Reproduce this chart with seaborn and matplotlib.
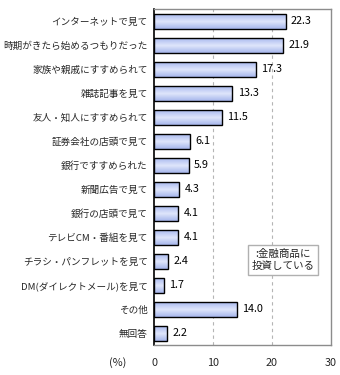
import numpy as np
import pandas as pd
import matplotlib
matplotlib.use("Agg")
import matplotlib.pyplot as plt
from matplotlib.colors import LinearSegmentedColormap
import seaborn as sns

# Reasons for starting to invest (%)
categories = [
    "インターネットで見て",
    "時期がきたら始めるつもりだった",
    "家族や親戚にすすめられて",
    "雑誌記事を見て",
    "友人・知人にすすめられて",
    "証券会社の店頭で見て",
    "銀行ですすめられた",
    "新聞広告で見て",
    "銀行の店頭で見て",
    "テレビCM・番組を見て",
    "チラシ・パンフレットを見て",
    "DM(ダイレクトメール)を見て",
    "その他",
    "無回答",
]
values = [22.3, 21.9, 17.3, 13.3, 11.5, 6.1, 5.9, 4.3, 4.1, 4.1, 2.4, 1.7, 14.0, 2.2]
x_ticks = [0, 10, 20, 30]
legend_text = ":金融商品に\n投資している"

df = pd.DataFrame({"reason": categories, "pct": values})

sns.set_theme(style="white")
plt.rcParams["font.family"] = ["Noto Sans CJK JP", "DejaVu Sans"]

fig = plt.figure(figsize=(3.4, 3.75), dpi=100)
ax = fig.add_axes([0.453, 0.08, 0.5205, 0.896])

sns.barplot(data=df, x="pct", y="reason", orient="h", width=0.625,
            color="#c4d0f4", edgecolor="black", linewidth=1.0, ax=ax,
            zorder=3)

# Vertical blue gradient inside every bar
grad_cmap = LinearSegmentedColormap.from_list(
    "barfill", ["#a9b9ef", "#dfe6fb", "#a6b6ec"])
grad = np.linspace(0, 1, 64).reshape(-1, 1)
for p in ax.patches:
    x0, y0 = p.get_x(), p.get_y()
    w, h = p.get_width(), p.get_height()
    im = ax.imshow(grad, cmap=grad_cmap, aspect="auto",
                   extent=(x0, x0 + w, y0 + h, y0), zorder=2.5,
                   interpolation="bilinear")
    im.set_clip_path(p)
    p.set_facecolor("none")

# Value labels
for i, v in enumerate(values):
    ax.text(v + 0.9, i, f"{v:.1f}", va="center", ha="left",
            fontsize=7.8, color="black", zorder=4)

ax.set_xlim(0, 30)
ax.set_ylim(len(categories) - 0.5, -0.5)
ax.set_xticks(x_ticks)
ax.set_xticklabels([str(t) for t in x_ticks], fontsize=7.8)
ax.tick_params(axis="x", length=0, pad=9)

# Category names as tick labels, short ticks at category boundaries
ax.set_yticks(range(len(categories)))
ax.set_yticklabels(categories, fontsize=6.9)
ax.tick_params(axis="y", which="major", length=0, pad=4.5)
ax.set_yticks(np.arange(len(categories) + 1) - 0.5, minor=True)
ax.tick_params(axis="y", which="minor", length=4, width=1, color="black",
               direction="out")
ax.set_xlabel("")
ax.set_ylabel("")

for xv in x_ticks[1:-1]:
    ax.axvline(xv, color="#b5b5b5", linestyle=(0, (3, 3)), linewidth=0.8,
               zorder=1)

for side in ["top", "right", "bottom"]:
    ax.spines[side].set_color("#8c8c8c")
    ax.spines[side].set_linewidth(1.0)
ax.spines["left"].set_color("black")
ax.spines["left"].set_linewidth(1.2)

ax.text(-0.203, -0.052, "(%)", transform=ax.transAxes, ha="center",
        va="center", fontsize=7.8)

ax.text(0.729, 0.253, legend_text, transform=ax.transAxes, ha="center",
        va="center", fontsize=7.6, linespacing=1.3, zorder=5,
        bbox=dict(boxstyle="square,pad=0.35", facecolor="white",
                  edgecolor="#b0b0b0", linewidth=1.0))

fig.savefig("out.png", dpi=100)
